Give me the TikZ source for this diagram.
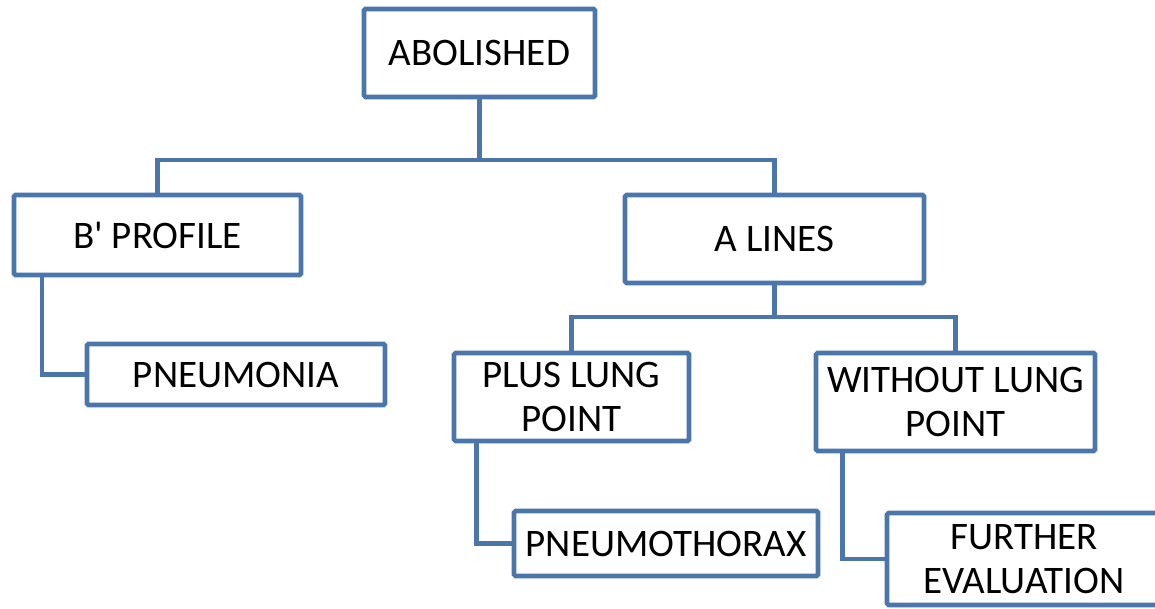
\documentclass[tikz,border=0pt]{standalone}
\usepackage{fontspec}
\setmainfont{Carlito}
\definecolor{edgeblue}{HTML}{4A76AB}
\begin{document}
\begin{tikzpicture}[x=1pt,y=-1pt,
  box/.style={draw=edgeblue, line width=4.6pt, rounded corners=1.5pt, fill=white,
    inner sep=0pt, outer sep=0pt, align=center, text=black,
    font=\fontsize{39}{44}\selectfont},
  link/.style={draw=edgeblue, line width=4.6pt}]
\clip (0,0) rectangle (1155,609);

% boxes
\node[box, minimum width=231pt, minimum height=88pt] (abol)    at (479.5,53)   {ABOLISHED};
\node[box, minimum width=287pt, minimum height=80pt] (bprof)   at (157.5,235)  {B\textquotesingle{} PROFILE};
\node[box, minimum width=298pt, minimum height=61pt] (pneu)    at (236,374.5)  {PNEUMONIA};
\node[box, minimum width=299pt, minimum height=88pt] (alines)  at (774.5,239)  {A LINES};
\node[box, minimum width=235pt, minimum height=88pt] (plus)    at (571.5,397)  {PLUS LUNG\\POINT};
\node[box, minimum width=279pt, minimum height=98pt] (without) at (955.5,402)  {WITHOUT LUNG\\POINT};
\node[box, minimum width=304pt, minimum height=65pt] (pthx)    at (666,543.5)  {PNEUMOTHORAX};
\node[box, minimum width=274pt, minimum height=92pt] (further) at (1024,559)   {FURTHER\\EVALUATION};

% connectors
\coordinate (busA) at (479.5,160);
\coordinate (busB) at (774.5,317);
\draw[link] (abol.south) -- (busA);
\draw[link] (bprof.north) |- (busA) -| (alines.north);
\draw[link] ([xshift=28pt]bprof.south west) |- (pneu.west);
\draw[link] (alines.south) -- (busB);
\draw[link] (plus.north) |- (busB) -| (without.north);
\draw[link] ([xshift=22.5pt]plus.south west) |- (pthx.west);
\draw[link] ([xshift=26.5pt]without.south west) |- (further.west);
\end{tikzpicture}
\end{document}
